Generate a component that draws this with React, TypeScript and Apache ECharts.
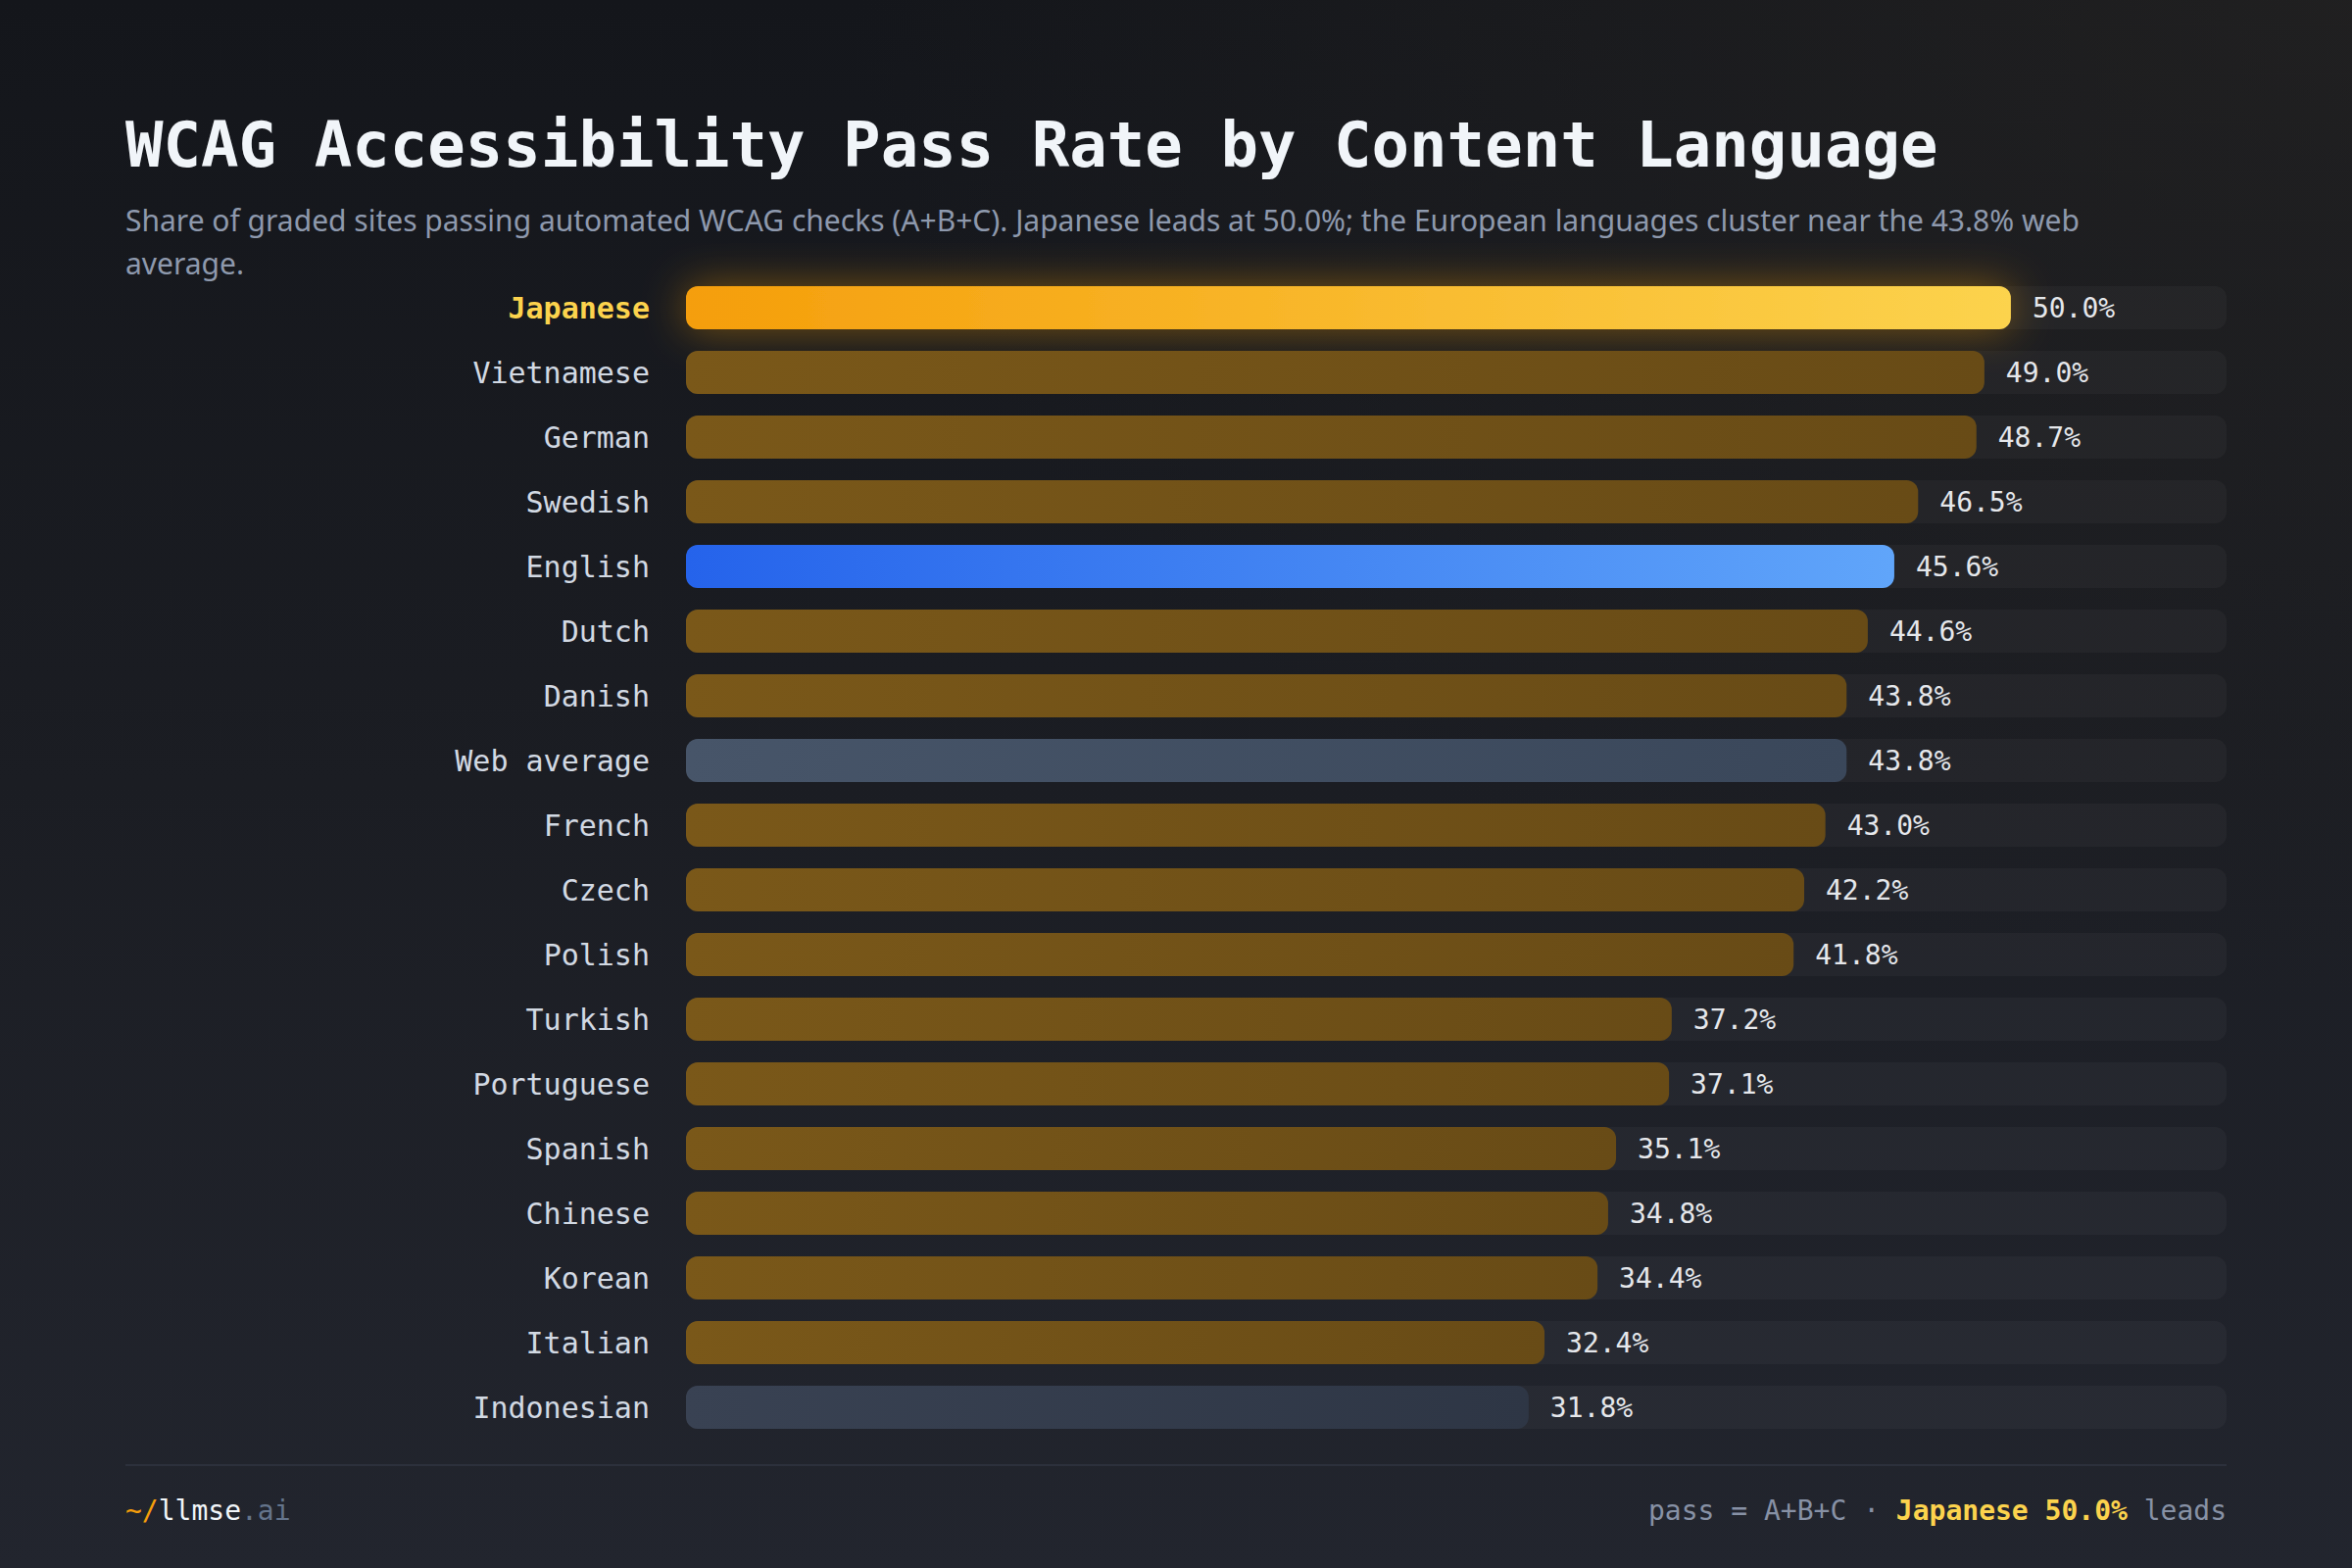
import React, { useEffect, useRef } from "react";
import * as echarts from "echarts";

const categories = [
  "Japanese", "Vietnamese", "German", "Swedish", "English", "Dutch", "Danish",
  "Web average", "French", "Czech", "Polish", "Turkish", "Portuguese", "Spanish",
  "Chinese", "Korean", "Italian", "Indonesian",
];
const passRates = [
  50.0, 49.0, 48.7, 46.5, 45.6, 44.6, 43.8, 43.8, 43.0, 42.2, 41.8, 37.2, 37.1,
  35.1, 34.8, 34.4, 32.4, 31.8,
];
const kinds = [
  "lead", "lang", "lang", "lang", "english", "lang", "lang", "avg", "lang", "lang",
  "lang", "lang", "lang", "lang", "lang", "lang", "lang", "muted",
];

const TITLE = "WCAG Accessibility Pass Rate by Content Language";
const SUB1 =
  "Share of graded sites passing automated WCAG checks (A+B+C). Japanese leads at 50.0%; the European languages cluster near the 43.8% web";
const SUB2 = "average.";

const MONO = "'DejaVu Sans Mono', 'Liberation Mono', monospace";
const SANS = "'Noto Sans', 'Open Sans', sans-serif";

const grad = (a: string, b: string) =>
  new echarts.graphic.LinearGradient(0, 0, 1, 0, [
    { offset: 0, color: a },
    { offset: 1, color: b },
  ]);

function styleFor(kind: string) {
  switch (kind) {
    case "lead":
      return {
        color: grad("#f59e0b", "#fcd34d"),
        borderRadius: 12,
        shadowBlur: 44,
        shadowColor: "rgba(245,158,11,0.45)",
      };
    case "english":
      return { color: grad("#2563eb", "#60a5fa"), borderRadius: 12 };
    case "avg":
      return { color: grad("#475569", "#3a475a"), borderRadius: 12 };
    case "muted":
      return { color: grad("#394253", "#2e3645"), borderRadius: 12 };
    default:
      return { color: grad("#7a5819", "#684b16"), borderRadius: 12 };
  }
}

export default function App() {
  const ref = useRef<HTMLDivElement>(null);

  useEffect(() => {
    if (!ref.current) return;
    const chart = echarts.init(ref.current, undefined, { renderer: "svg" });

    const option: any = {
      animation: false,
      backgroundColor: "transparent",
      grid: { left: 700, top: 281, width: 1572, height: 1188, containLabel: false },
      xAxis: {
        type: "value",
        min: 0,
        max: 58.14,
        show: false,
      },
      yAxis: {
        type: "category",
        data: categories,
        inverse: true,
        axisLine: { show: false },
        axisTick: { show: false },
        splitLine: { show: false },
        axisLabel: {
          margin: 37,
          fontFamily: MONO,
          fontSize: 30,
          color: "#d2d9e3",
          formatter: (v: string) => (v === "Japanese" ? `{hl|${v}}` : v),
          rich: {
            hl: {
              fontFamily: MONO,
              fontSize: 30,
              fontWeight: "bold",
              color: "#fcd34d",
            },
          },
        },
      },
      series: [
        {
          type: "bar",
          barWidth: 44,
          showBackground: true,
          backgroundStyle: { color: "rgba(255,255,255,0.035)", borderRadius: 12 },
          data: passRates.map((v, i) => ({
            value: v,
            itemStyle: styleFor(kinds[i]),
          })),
          label: {
            show: true,
            position: "right",
            distance: 22,
            fontFamily: MONO,
            fontSize: 28,
            color: "#e5e7eb",
            formatter: (p: any) => `${Number(p.value).toFixed(1)}%`,
          },
        },
      ],
      graphic: [
        {
          type: "text",
          left: 128,
          top: 116,
          style: {
            text: TITLE,
            fontFamily: MONO,
            fontSize: 64,
            fontWeight: "bold",
            fill: "#f1f5f9",
          },
        },
        {
          type: "text",
          left: 128,
          top: 209,
          style: { text: SUB1, fontFamily: SANS, fontSize: 30, fill: "#8e99ad" },
        },
        {
          type: "text",
          left: 128,
          top: 253,
          style: { text: SUB2, fontFamily: SANS, fontSize: 30, fill: "#8e99ad" },
        },
        {
          type: "line",
          shape: { x1: 128, y1: 1495, x2: 2272, y2: 1495 },
          style: { stroke: "#2c303c", lineWidth: 2 },
        },
        {
          type: "text",
          left: 128,
          top: 1527,
          style: {
            text: "{o|~/}{w|llmse}{g|.ai}",
            fontFamily: MONO,
            fontSize: 28,
            rich: {
              o: { fontFamily: MONO, fontSize: 28, fill: "#f59e0b", color: "#f59e0b" },
              w: { fontFamily: MONO, fontSize: 28, fill: "#f1f5f9", color: "#f1f5f9" },
              g: { fontFamily: MONO, fontSize: 28, fill: "#64748b", color: "#64748b" },
            },
          },
        },
        {
          type: "text",
          right: 128,
          top: 1527,
          style: {
            text: "{g|pass = A+B+C · }{y|Japanese 50.0%}{g| leads}",
            fontFamily: MONO,
            fontSize: 28,
            rich: {
              g: { fontFamily: MONO, fontSize: 28, fill: "#8791a5", color: "#8791a5" },
              y: {
                fontFamily: MONO,
                fontSize: 28,
                fontWeight: "bold",
                fill: "#fcd34d",
                color: "#fcd34d",
              },
            },
          },
        },
      ],
    };

    chart.setOption(option);
    return () => chart.dispose();
  }, []);

  return (
    <div
      ref={ref}
      style={{
        position: "fixed",
        left: 0,
        top: 0,
        width: 2400,
        height: 1600,
        background:
          "radial-gradient(ellipse at 100% 0%, rgba(40,38,36,0.6) 0%, rgba(40,38,36,0) 45%), linear-gradient(180deg, #14161b 0%, #1b1d23 50%, #22252e 100%)",
      }}
    />
  );
}
